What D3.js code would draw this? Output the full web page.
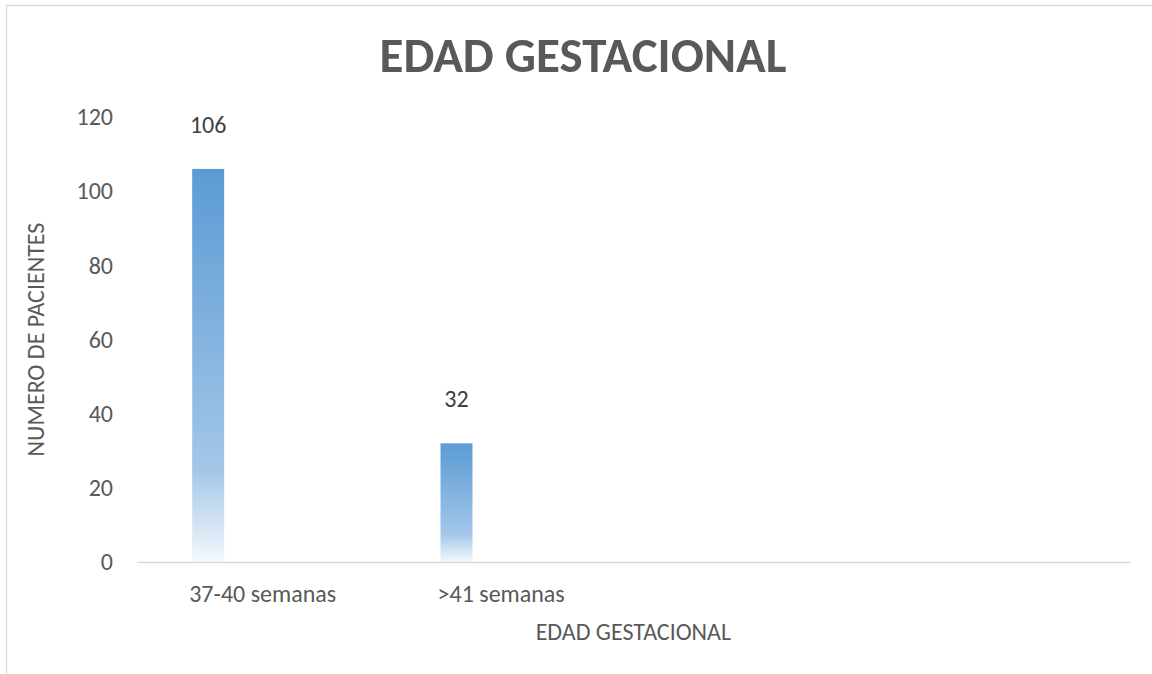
<!DOCTYPE html>
<html>
<head>
<meta charset="utf-8">
<script src="https://cdn.jsdelivr.net/npm/d3@7"></script>
<style>
  body { margin: 0; background: #fff; }
  svg { display: block; font-family: Calibri, Carlito, Lato, sans-serif; }
</style>
</head>
<body>
<script>

// chart values
const categories = ["37-40 semanas", ">41 semanas", "", ""]
const pacientes  = [106, 32, null, null]
const yTicks     = [0, 20, 40, 60, 80, 100, 120]
const titleText  = "EDAD GESTACIONAL"
const xTitle     = "EDAD GESTACIONAL"
const yTitle     = "NUMERO DE PACIENTES"

const width  = 1152
const height = 674
const fontSize = "24px"

// plot area, in page pixels
const plot = { left: 136.7, right: 1130, top: 117, bottom: 562 }

const svg = d3.select("body")
    .append("svg")
    .attr("width", width)
    .attr("height", height)

// chart area frame (runs off the right and bottom of the picture)
svg.append("rect")
    .attr("x", 6.5)
    .attr("y", 5.5)
    .attr("width", 1154)
    .attr("height", 700)
    .style("fill", "#fff")
    .style("stroke", "#d9d9d9")
    .style("stroke-width", 1.3)

// bar fill: Excel style light gradient
let grad = svg.append("defs").append("linearGradient")
    .attr("id", "barGrad")
    .attr("x1", 0).attr("y1", 0)
    .attr("x2", 0).attr("y2", 1)
grad.append("stop").attr("offset", 0).attr("stop-color", "#5b9bd5")
grad.append("stop").attr("offset", 0.76).attr("stop-color", "#a2c6e8")
grad.append("stop").attr("offset", 1).attr("stop-color", "#f4f8fc")

// scales
let x = d3.scaleBand()
    .domain(d3.range(categories.length))
    .range([plot.left, plot.right])
    .padding(0)

// each category slot holds a cluster of 4 bar places; the series fills the first one
let xSlot = d3.scaleBand()
    .domain(d3.range(4))
    .range([0, x.bandwidth()])
    .paddingInner(0.09)
    .paddingOuter(1.58)

let y = d3.scaleLinear()
    .domain([0, 120])
    .range([plot.bottom, plot.top])

// y axis (labels only)
let yAxis = svg.append("g")
    .attr("transform", `translate(${plot.left},0)`)
    .call(d3.axisLeft(y).tickValues(yTicks).tickSize(0).tickPadding(23.7))
yAxis.select(".domain").remove()
yAxis.selectAll("text")
    .style("font-size", fontSize)
    .style("fill", "#595959")
    .style("font-family", "Calibri, Carlito, Lato, sans-serif")

// bars
let bars = categories.map((c, i) => ({ i: i, v: pacientes[i] })).filter(d => d.v != null)

svg.append("g").selectAll("rect")
    .data(bars)
    .join("rect")
    .attr("x", d => x(d.i) + xSlot(0))
    .attr("y", d => y(d.v))
    .attr("width", xSlot.bandwidth())
    .attr("height", d => y(0) - y(d.v))
    .style("fill", "url(#barGrad)")

// data labels
svg.append("g").selectAll("text")
    .data(bars)
    .join("text")
    .attr("x", d => x(d.i) + xSlot(0) + xSlot.bandwidth() / 2)
    .attr("y", d => y(d.v) - 36)
    .attr("text-anchor", "middle")
    .style("font-size", fontSize)
    .style("fill", "#404040")
    .text(d => d.v)

// x axis, labels start just left of the bar in each slot
let xAxis = svg.append("g")
    .attr("transform", `translate(0,${plot.bottom})`)
    .call(d3.axisBottom(x).tickSize(0).tickFormat(i => categories[i]))
xAxis.select(".domain")
    .style("stroke", "#d9d9d9")
    .style("stroke-width", 1.5)
xAxis.selectAll("text")
    .attr("text-anchor", "start")
    .attr("x", -x.bandwidth() / 2 + xSlot(0) - 3)
    .attr("y", 40)
    .attr("dy", 0)
    .style("font-size", fontSize)
    .style("fill", "#595959")
    .style("font-family", "Calibri, Carlito, Lato, sans-serif")

// titles
svg.append("text")
    .attr("x", 583)
    .attr("y", 72)
    .attr("text-anchor", "middle")
    .style("font-size", "49px")
    .style("font-weight", "bold")
    .style("fill", "#595959")
    .text(titleText)

svg.append("text")
    .attr("x", (plot.left + plot.right) / 2)
    .attr("y", 640)
    .attr("text-anchor", "middle")
    .style("font-size", fontSize)
    .style("fill", "#595959")
    .text(xTitle)

svg.append("text")
    .attr("transform", `translate(44,${(plot.top + plot.bottom) / 2}) rotate(-90)`)
    .attr("text-anchor", "middle")
    .style("font-size", fontSize)
    .style("fill", "#595959")
    .text(yTitle)

</script>
</body>
</html>
